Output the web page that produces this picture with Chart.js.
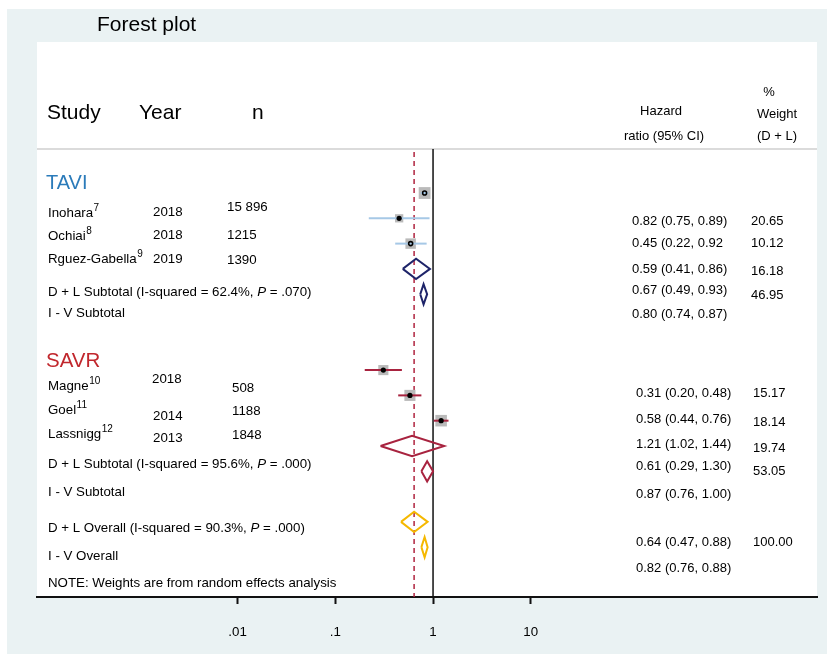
<!DOCTYPE html>
<html>
<head>
<meta charset="utf-8">
<title>Forest plot</title>
<script src="https://cdn.jsdelivr.net/npm/chart.js@4.4.1/dist/chart.umd.min.js"></script>
<style>
    html, body { margin: 0; padding: 0; background: #fff; }
    canvas { display: block; }
</style>
</head>
<body>
<canvas id="forestChart" width="827" height="654"></canvas>
<script>
// Datos del gráfico
const groups = ['TAVI', 'SAVR'];
const studies = ['Inohara', 'Ochiai', 'Rguez-Gabella', 'Magne', 'Goel', 'Lassnigg'];
const refs = ['7', '8', '9', '10', '11', '12'];
const years = ['2018', '2018', '2019', '2018', '2014', '2013'];
const sizes = ['15 896', '1215', '1390', '508', '1188', '1848'];
const studyGroup = [0, 0, 0, 1, 1, 1];

// estimates of the study markers, top to bottom
const studyHR = [0.82, 0.45, 0.59, 0.31, 0.58, 1.21];
const studyLo = [0.75, 0.22, 0.41, 0.20, 0.44, 1.02];
const studyHi = [0.89, 0.92, 0.86, 0.48, 0.76, 1.44];
const studyWeight = [20.65, 10.12, 16.18, 15.17, 18.14, 19.74];
const studyHRText = ['0.82 (0.75, 0.89)', '0.45 (0.22, 0.92', '0.59 (0.41, 0.86)',
                     '0.31 (0.20, 0.48)', '0.58 (0.44, 0.76)', '1.21 (1.02, 1.44)'];
const studyWeightText = ['20.65', '10.12', '16.18', '15.17', '18.14', '19.74'];

// pooled estimates
const poolLabel = ['D + L Subtotal', 'I - V Subtotal', 'D + L Subtotal', 'I - V Subtotal', 'D + L Overall', 'I - V Overall'];
const poolI2 = ['62.4%', '', '95.6%', '', '90.3%', ''];
const poolP = ['.070', '', '.000', '', '.000', ''];
const poolHR = [0.67, 0.80, 0.61, 0.87, 0.64, 0.82];
const poolLo = [0.49, 0.74, 0.29, 0.76, 0.47, 0.76];
const poolHi = [0.93, 0.87, 1.30, 1.00, 0.88, 0.88];
const poolHRText = ['0.67 (0.49, 0.93)', '0.80 (0.74, 0.87)', '0.61 (0.29, 1.30)',
                    '0.87 (0.76, 1.00)', '0.64 (0.47, 0.88)', '0.82 (0.76, 0.88)'];
const poolWeightText = ['46.95', '', '53.05', '', '100.00', ''];
const poolKind = [0, 0, 1, 1, 2, 2];
const overallIndex = 4;

const tickValues = [0.01, 0.1, 1, 10];
const tickLabels = ['.01', '.1', '1', '10'];

// Layout
const FONT = '"Liberation Sans", Arial, Helvetica, sans-serif';
const BODY = 13.3;
const studyRow = [0, 1, 2, 7, 8, 9];
const poolRow = [3, 4, 10, 11, 13, 14];
const headerRow = -1.74;
const ciColors = ['#a6c8e6', '#a8233f'];
const diamondColors = ['#1e2469', '#a8233f', '#f5b800'];
const groupColors = ['#2b7bba', '#c1272d'];
const hollowDot = [true, false, true, false, false, false];

const datasets = [];

// Líneas de referencia
datasets.push({
    data: [{ x: 1, y: headerRow }, { x: 1, y: 16 }],
    showLine: true, borderColor: '#111', borderWidth: 1.5, pointRadius: 0, order: 9
});
datasets.push({
    data: [{ x: poolHR[overallIndex], y: headerRow + 0.12 }, { x: poolHR[overallIndex], y: 16 }],
    showLine: true, borderColor: '#b0243f', borderWidth: 1.5, borderDash: [5, 4], pointRadius: 0, order: 8
});

// Cajas de peso
datasets.push({
    data: studyHR.map((v, i) => ({ x: v, y: studyRow[i] })),
    pointStyle: 'rect',
    pointRadius: studyWeight.map(w => 2.6 * Math.sqrt(w) / Math.SQRT2),
    backgroundColor: '#bababa', borderWidth: 0, order: 7
});

// Intervalos de confianza
studyHR.forEach((v, i) => {
    datasets.push({
        data: [{ x: studyLo[i], y: studyRow[i] }, { x: studyHi[i], y: studyRow[i] }],
        showLine: true, borderColor: ciColors[studyGroup[i]], borderWidth: 2, pointRadius: 0, order: 5
    });
});

// Puntos
datasets.push({
    data: studyHR.map((v, i) => ({ x: v, y: studyRow[i] })),
    pointStyle: 'circle',
    pointRadius: hollowDot.map(h => h ? 2 : 2.6),
    backgroundColor: hollowDot.map(h => h ? 'rgba(0,0,0,0)' : '#000'),
    borderColor: '#000', borderWidth: hollowDot.map(h => h ? 1.6 : 0), order: 1
});

// Diamantes
poolHR.forEach((v, i) => {
    const r = poolRow[i];
    datasets.push({
        data: [
            { x: poolLo[i], y: r }, { x: v, y: r - 0.4 }, { x: poolHi[i], y: r },
            { x: v, y: r + 0.4 }, { x: poolLo[i], y: r }
        ],
        showLine: true, borderColor: diamondColors[poolKind[i]], borderWidth: 2,
        borderJoinStyle: 'miter', pointRadius: 0, order: 3
    });
});

function drawText(ctx, str, x, y, size, color, align, italic) {
    ctx.font = (italic ? 'italic ' : '') + size + 'px ' + FONT;
    ctx.fillStyle = color || '#000';
    ctx.textAlign = align || 'left';
    ctx.textBaseline = 'middle';
    ctx.fillText(str, x, y);
    return ctx.measureText(str).width;
}

const backgroundPlugin = {
    id: 'background',
    beforeDraw(chart) {
        const ctx = chart.ctx;
        const a = chart.chartArea;
        ctx.save();
        ctx.fillStyle = '#fff';
        ctx.fillRect(0, 0, chart.width, chart.height);
        ctx.fillStyle = '#eaf2f3';
        ctx.fillRect(7, 9, chart.width - 7, chart.height - 9);
        ctx.fillStyle = '#fff';
        ctx.fillRect(a.left, a.top, a.right - a.left, a.bottom - a.top);
        // separador de la cabecera
        const yHead = chart.scales.y.getPixelForValue(headerRow);
        ctx.strokeStyle = '#cfcfcf';
        ctx.lineWidth = 1.5;
        ctx.beginPath();
        ctx.moveTo(a.left, yHead);
        ctx.lineTo(a.right, yHead);
        ctx.stroke();
        ctx.restore();
    }
};

const textPlugin = {
    id: 'forestText',
    afterDraw(chart) {
        const ctx = chart.ctx;
        ctx.save();
        drawText(ctx, 'Forest plot', 97, 25, 21);

        // Cabecera
        drawText(ctx, 'Study', 47, 113, 21);
        drawText(ctx, 'Year', 139, 113, 21);
        drawText(ctx, 'n', 252, 113, 21);
        drawText(ctx, 'Hazard', 661, 111, 13, '#000', 'center');
        drawText(ctx, 'ratio (95% CI)', 664, 136, 13, '#000', 'center');
        drawText(ctx, '%', 769, 92, 13, '#000', 'center');
        drawText(ctx, 'Weight', 777, 114, 13, '#000', 'center');
        drawText(ctx, '(D + L)', 777, 136, 13, '#000', 'center');

        // Grupos
        drawText(ctx, groups[0], 46, 183, 20, groupColors[0]);
        drawText(ctx, groups[1], 46, 361, 20.5, groupColors[1]);

        // Estudios
        const nameY = [213, 236, 259, 386, 410, 434];
        const yearX = [153, 153, 153, 152, 153, 153];
        const yearY = [212, 235, 259, 379, 416, 438];
        const nX = [227, 227, 227, 232, 232, 232];
        const nY = [207, 235, 260, 388, 411, 435];
        const hrY = [221, 243, 269, 393, 419, 444];
        const wY = [221, 243, 271, 393, 422, 448];
        studies.forEach((s, i) => {
            const w = drawText(ctx, s, 48, nameY[i], BODY);
            drawText(ctx, refs[i], 48 + w + 0.5, nameY[i] - 5, 10);
            drawText(ctx, years[i], yearX[i], yearY[i], BODY);
            drawText(ctx, sizes[i], nX[i], nY[i], BODY);
            drawText(ctx, studyHRText[i], studyGroup[i] ? 636 : 632, hrY[i], 13);
            drawText(ctx, studyWeightText[i], studyGroup[i] ? 753 : 751, wY[i], 13);
        });

        // Subtotales
        const poolY = [292, 313, 464, 492, 528, 556];
        const poolHrY = [290, 314, 466, 494, 542, 568];
        const poolWY = [295, 0, 471, 0, 542, 0];
        poolLabel.forEach((lab, i) => {
            let x = 48;
            if (poolI2[i]) {
                x += drawText(ctx, lab + ' (I-squared = ' + poolI2[i] + ', ', x, poolY[i], BODY);
                x += drawText(ctx, 'P', x, poolY[i], BODY, '#000', 'left', true);
                drawText(ctx, ' = ' + poolP[i] + ')', x, poolY[i], BODY);
            } else {
                drawText(ctx, lab, x, poolY[i], BODY);
            }
            drawText(ctx, poolHRText[i], i < 2 ? 632 : 636, poolHrY[i], 13);
            if (poolWeightText[i]) {
                drawText(ctx, poolWeightText[i], i < 2 ? 751 : 753, poolWY[i], 13);
            }
        });

        drawText(ctx, 'NOTE: Weights are from random effects analysis', 48, 583, BODY);
        ctx.restore();
    }
};

const forestChart = new Chart(document.getElementById('forestChart'), {
    type: 'scatter',
    data: { datasets: datasets },
    options: {
        responsive: false,
        animation: false,
        events: [],
        layout: { padding: { left: 37, right: 10, top: 42, bottom: 0 } },
        plugins: {
            legend: { display: false },
            tooltip: { enabled: false }
        },
        scales: {
            x: {
                type: 'logarithmic',
                position: 'bottom',
                bounds: 'data',
                min: 8.85e-5,
                max: 8500,
                afterBuildTicks: (scale) => {
                    scale.ticks = tickValues.map(v => ({ value: v }));
                },
                afterFit: (scale) => { scale.height = 57; },
                grid: {
                    drawOnChartArea: false,
                    drawTicks: true,
                    tickLength: 7,
                    tickWidth: 2,
                    tickColor: '#111'
                },
                border: { display: true, color: '#111', width: 2 },
                ticks: {
                    autoSkip: false,
                    maxRotation: 0,
                    padding: 20,
                    color: '#000',
                    font: { family: FONT, size: 13.3 },
                    callback: (v) => tickLabels[tickValues.indexOf(v)]
                }
            },
            y: {
                type: 'linear',
                display: false,
                reverse: true,
                min: -5.97,
                max: 15.97
            }
        }
    },
    plugins: [backgroundPlugin, textPlugin]
});
</script>
</body>
</html>
